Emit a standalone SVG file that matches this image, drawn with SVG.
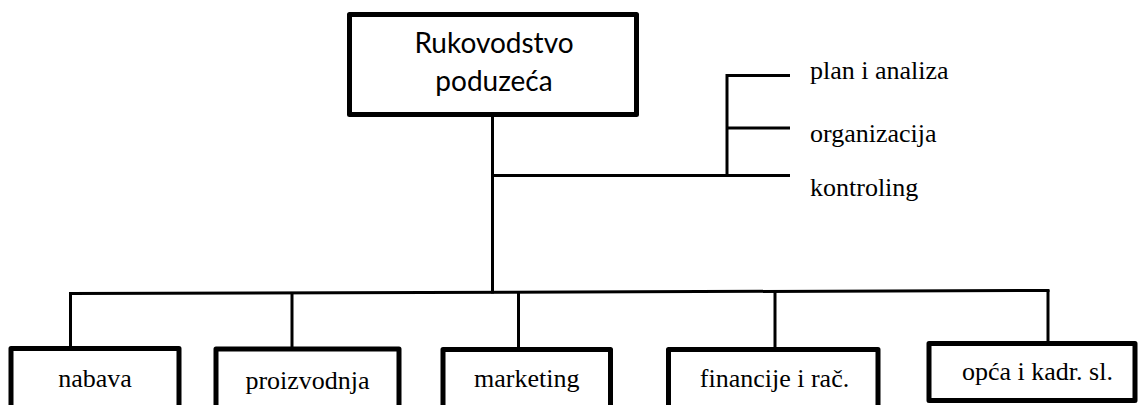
<svg xmlns="http://www.w3.org/2000/svg" width="1139" height="405" viewBox="0 0 1139 405">
<style>
.box{fill:#fff;stroke:#000;stroke-width:5;stroke-linejoin:round}
.ln{fill:none;stroke:#000;stroke-width:3}
.top{font-family:Lato,"Liberation Sans",sans-serif;font-size:28px;fill:#000;text-anchor:middle}
.t{font-family:"Liberation Serif","Times New Roman",serif;font-size:26px;fill:#000}
.c{text-anchor:middle}
</style>
<rect width="1139" height="405" fill="#fff"/>
<g id="connectors">
<line class="ln" x1="492.5" y1="117" x2="492.5" y2="293.5"/>
<line class="ln" x1="492.5" y1="175.5" x2="790" y2="175.5"/>
<line class="ln" x1="727" y1="74" x2="727" y2="175.5"/>
<line class="ln" x1="727" y1="75.5" x2="790" y2="75.5"/>
<line class="ln" x1="727" y1="128" x2="790" y2="128"/>
<line class="ln" x1="69" y1="293.5" x2="1049.5" y2="290.5"/>
<line class="ln" x1="70.5" y1="293" x2="70.5" y2="349"/>
<line class="ln" x1="292" y1="292" x2="292" y2="349"/>
<line class="ln" x1="518.5" y1="292" x2="518.5" y2="349"/>
<line class="ln" x1="775" y1="291" x2="775" y2="349"/>
<line class="ln" x1="1048" y1="290" x2="1048" y2="343"/>
</g>
<g id="rukovodstvo">
<rect class="box" x="349.5" y="14.5" width="287" height="100"/>
<text class="top" x="494" y="53">Rukovodstvo</text>
<text class="top" x="494" y="91">poduzeća</text>
</g>
<g id="plan"><text class="t" x="810" y="79">plan i analiza</text></g>
<g id="organizacija"><text class="t" x="810" y="141.5">organizacija</text></g>
<g id="kontroling"><text class="t" x="810" y="196">kontroling</text></g>
<g id="nabava">
<rect class="box" x="11" y="348.5" width="168" height="80"/>
<text class="t c" x="95" y="387">nabava</text>
</g>
<g id="proizvodnja">
<rect class="box" x="216" y="349" width="183" height="80"/>
<text class="t c" x="307.5" y="389">proizvodnja</text>
</g>
<g id="marketing">
<rect class="box" x="443" y="349.5" width="167.5" height="80"/>
<text class="t c" x="526.7" y="387">marketing</text>
</g>
<g id="financije">
<rect class="box" x="668.5" y="349.5" width="209.5" height="80"/>
<text class="t c" x="774.5" y="387">financije i rač.</text>
</g>
<g id="opca">
<rect class="box" x="929" y="343.5" width="206" height="57"/>
<text class="t" x="962" y="380">opća i kadr. sl.</text>
</g>
</svg>
